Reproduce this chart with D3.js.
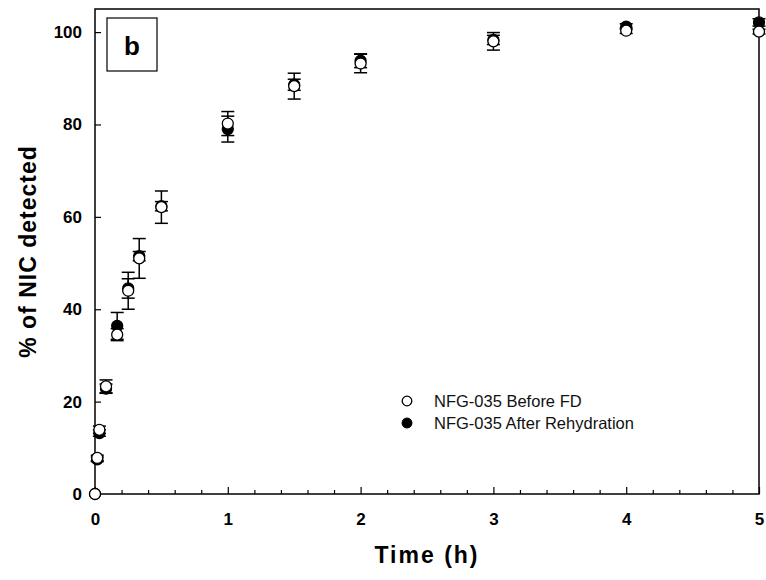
<!DOCTYPE html>
<html>
<head>
<meta charset="utf-8">
<script src="https://cdn.jsdelivr.net/npm/d3@7"></script>
<style>
  body { margin: 0; background: #fff; }
  svg { display: block; font-family: "Liberation Sans", Arial, sans-serif; }
</style>
</head>
<body>
<svg id="chart"></svg>
<script>
// data (time in h, % NIC detected)
const timeH = [0, 0.017, 0.033, 0.083, 0.167, 0.25, 0.333, 0.5, 1, 1.5, 2, 3, 4, 5];
const beforeFD = [0, 7.8, 13.9, 23.3, 34.5, 44.0, 51.0, 62.1, 80.2, 88.3, 93.2, 98.0, 100.3, 100.1];
const beforeErr = [0, 0.6, 0.8, 1.4, 1.3, 4.0, 4.3, 3.5, 2.6, 2.8, 2.0, 1.9, 0.6, 0.5];
const afterRehyd = [0, 7.5, 13.2, 22.8, 36.4, 44.5, 51.5, 62.3, 79.0, 88.6, 93.8, 98.3, 101.2, 102.1];
const afterErr = [0, 0.5, 0.7, 1.0, 2.9, 2.1, 1.0, 1.0, 2.8, 1.2, 1.5, 1.0, 0.6, 0.8];
const xTicks = [0, 1, 2, 3, 4, 5];
const yTicks = [0, 20, 40, 60, 80, 100];
const seriesNames = ["NFG-035 Before FD", "NFG-035 After Rehydration"];

const width = 766, height = 580;
const margin = { left: 95, right: 7, top: 9, bottom: 86 };

const svg = d3.select('#chart')
  .attr('width', width)
  .attr('height', height);

const x = d3.scaleLinear().domain([0, 5]).range([margin.left, width - margin.right]);
const y = d3.scaleLinear().domain([0, 105]).range([height - margin.bottom, margin.top]);

// frame
svg.append('rect')
  .attr('x', x(0)).attr('y', y(105))
  .attr('width', x(5) - x(0)).attr('height', y(0) - y(105))
  .attr('fill', 'none').attr('stroke', '#000').attr('stroke-width', 1.5);

// x axis - ticks point inside
const xAxis = svg.append('g')
  .attr('transform', `translate(0,${y(0)})`)
  .call(d3.axisBottom(x).tickValues(xTicks).tickSizeInner(-7).tickSizeOuter(0).tickPadding(19).tickFormat(d3.format('d')));
xAxis.select('.domain').remove();
xAxis.selectAll('line').attr('stroke-width', 1.2);
xAxis.selectAll('text').attr('font-size', 17).attr('font-weight', 'bold').attr('font-family', '"Liberation Sans", Arial, sans-serif').attr('fill', '#000');

// minor x ticks
const minor = svg.append('g')
  .attr('transform', `translate(0,${y(0)})`)
  .call(d3.axisBottom(x).tickValues(d3.range(0, 5.01, 0.2).filter(v => Math.abs(v - Math.round(v)) > 0.01)).tickSizeInner(-4).tickSizeOuter(0).tickFormat(''));
minor.select('.domain').remove();
minor.selectAll('line').attr('stroke-width', 1.2);

// y axis - ticks point inside
const yAxis = svg.append('g')
  .attr('transform', `translate(${x(0)},0)`)
  .call(d3.axisLeft(y).tickValues(yTicks).tickSizeInner(-6).tickSizeOuter(0).tickPadding(13));
yAxis.select('.domain').remove();
yAxis.selectAll('line').attr('stroke-width', 1.2);
yAxis.selectAll('text').attr('font-size', 17).attr('font-weight', 'bold').attr('font-family', '"Liberation Sans", Arial, sans-serif').attr('fill', '#000');

// axis titles
svg.append('text')
  .attr('x', (x(0) + x(5)) / 2).attr('y', 563)
  .attr('text-anchor', 'middle')
  .attr('font-size', 23).attr('font-weight', 'bold')
  .attr('letter-spacing', 2)
  .text('Time (h)');

svg.append('text')
  .attr('transform', `translate(36,${(y(0) + y(105)) / 2}) rotate(-90)`)
  .attr('text-anchor', 'middle')
  .attr('font-size', 23).attr('font-weight', 'bold')
  .attr('letter-spacing', 1)
  .text('% of NIC detected');

// panel label box
svg.append('rect')
  .attr('x', 107).attr('y', 18).attr('width', 50).attr('height', 53)
  .attr('fill', '#fff').attr('stroke', '#000').attr('stroke-width', 1.2);
svg.append('text')
  .attr('x', 132).attr('y', 55)
  .attr('text-anchor', 'middle')
  .attr('font-size', 26).attr('font-weight', 'bold')
  .text('b');

// error bars + markers
const capW = 6.5;
function drawSeries(vals, errs, fill) {
  const g = svg.append('g');
  const rows = timeH.map((t, i) => ({ t, v: vals[i], e: errs[i] }));
  const eb = g.selectAll('g.eb').data(rows.filter(d => d.e > 0)).enter().append('g')
    .attr('stroke', '#000').attr('stroke-width', 1.5);
  eb.append('line')
    .attr('x1', d => x(d.t)).attr('x2', d => x(d.t))
    .attr('y1', d => y(d.v + d.e)).attr('y2', d => y(d.v - d.e));
  eb.append('line')
    .attr('x1', d => x(d.t) - capW).attr('x2', d => x(d.t) + capW)
    .attr('y1', d => y(d.v + d.e)).attr('y2', d => y(d.v + d.e));
  eb.append('line')
    .attr('x1', d => x(d.t) - capW).attr('x2', d => x(d.t) + capW)
    .attr('y1', d => y(d.v - d.e)).attr('y2', d => y(d.v - d.e));
  g.selectAll('circle').data(rows).enter().append('circle')
    .attr('cx', d => x(d.t)).attr('cy', d => y(d.v))
    .attr('r', 5.5)
    .attr('fill', fill).attr('stroke', '#000').attr('stroke-width', 1.3);
}
drawSeries(afterRehyd, afterErr, '#000');
drawSeries(beforeFD, beforeErr, '#fff');

// legend
const legend = svg.append('g').attr('transform', 'translate(407,401)');
legend.selectAll('circle').data(seriesNames).enter().append('circle')
  .attr('cx', 0).attr('cy', (d, i) => i * 22)
  .attr('r', 4.8)
  .attr('fill', (d, i) => i === 0 ? '#fff' : '#000')
  .attr('stroke', '#000').attr('stroke-width', 1.3);
legend.selectAll('text').data(seriesNames).enter().append('text')
  .attr('x', 27).attr('y', (d, i) => i * 22 + 6)
  .attr('font-size', 16.5)
  .attr('fill', '#111')
  .text(d => d);
</script>
</body>
</html>
